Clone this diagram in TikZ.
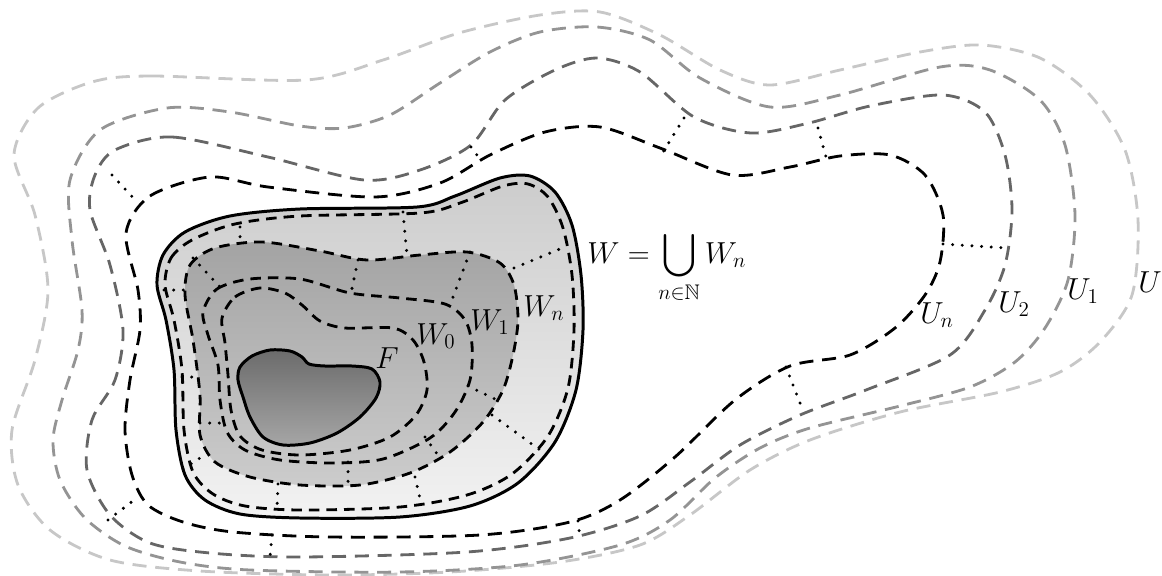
\documentclass[tikz,border=0pt]{standalone}
\usepackage{amsmath,amssymb}
\usepackage{tikz}

\begin{document}
\begin{tikzpicture}[x=0.02cm, y=-0.02cm,
  bound/.style={line width=1.6pt, dash pattern=on 8pt off 5pt},
  inner bound/.style={line width=1.6pt, dash pattern=on 6pt off 4pt},
  link/.style={line width=1.9pt, line cap=round, dash pattern=on 0pt off 5.5pt},
  lbl/.style={inner sep=0pt, anchor=base west, font=\LARGE}]
  \useasboundingbox (0,0) rectangle (1162,575);

  % Neighbourhoods U, U_1, U_2, U_n
  \draw[bound, black!22] plot[smooth cycle] coordinates {
    (92,82) (150,76) (306,80) (383,60) (459,33) (540,15) (600,12) (660,35)
    (720,70) (770,85) (840,70) (920,52) (981,45) (1040,58) (1090,95)
    (1125,150) (1138,220) (1132,295) (1100,342) (1060,372) (1000,392)
    (900,412) (810,440) (750,470) (690,515) (640,545) (560,562) (450,572)
    (330,575) (200,571) (110,560) (50,530) (18,485) (12,430) (35,360)
    (48,290) (35,215) (14,155) (38,108)};
  \draw[bound, black!42] plot[smooth cycle] coordinates {
    (100,130) (167,108) (230,112) (300,126) (344,128) (390,115) (440,83)
    (490,52) (540,32) (597,27) (650,40) (700,78) (770,107) (840,95)
    (940,67) (990,70) (1040,100) (1065,145) (1075,215) (1068,280)
    (1045,328) (1015,362) (970,387) (900,406) (810,428) (760,448)
    (715,478) (670,520) (620,545) (520,565) (400,572) (250,570) (180,562)
    (125,546) (85,518) (60,480) (53,440) (62,400) (78,350) (82,310)
    (72,240) (70,180)};
  \draw[bound, black!60] plot[smooth cycle] coordinates {
    (115,150) (172,137) (268,157) (364,180) (420,170) (471,145) (505,100)
    (555,70) (597,58) (640,72) (694,117) (751,133) (809,123) (870,106)
    (943,95) (985,112) (1005,155) (1012,210) (1005,265) (985,310)
    (950,355) (866,390) (800,415) (740,445) (690,482) (640,516) (570,538)
    (467,552) (300,557) (210,553) (150,543) (110,515) (87,470) (92,420)
    (115,380) (123,330) (110,265) (90,210) (95,175)};
  \draw[bound, black] plot[smooth cycle] coordinates {
    (126,233) (150,196) (210,177) (268,187) (375,197) (440,183) (490,155)
    (545,132) (600,127) (660,148) (732,175) (790,167) (840,156) (890,155)
    (925,175) (943,215) (940,262) (925,295) (895,328) (850,355) (790,366)
    (735,400) (675,457) (620,500) (570,522) (480,535) (330,537) (233,532)
    (183,522) (148,505) (132,475) (125,430) (130,380) (140,330) (138,290)};

  % The set W and its exhaustion
  \draw[line width=1.7pt, top color=black!20, bottom color=black!5]
    plot[smooth cycle] coordinates {
    (157,285) (163,255) (185,232) (230,216) (300,209) (417,207) (455,196)
    (500,178) (530,176) (555,192) (572,225) (581,275) (583,330) (576,390)
    (555,442) (518,483) (470,506) (400,517) (300,518) (240,514) (205,500)
    (185,475) (176,430) (174,370) (166,320)};
  \draw[inner bound] plot[smooth cycle] coordinates {
    (165,285) (171,258) (192,240) (235,224) (300,216) (420,213) (460,203)
    (503,186) (528,184) (548,197) (563,228) (572,275) (574,330) (568,388)
    (548,436) (512,474) (467,495) (400,507) (300,510) (245,506) (213,494)
    (193,472) (184,430) (182,370) (174,320)};
  \draw[inner bound, top color=black!36, bottom color=black!20]
    plot[smooth cycle] coordinates {
    (185,295) (190,265) (215,248) (262,242) (320,251) (367,260) (420,255)
    (467,252) (500,263) (514,285) (518,320) (513,355) (503,390) (483,422)
    (450,452) (410,473) (360,485) (300,485) (250,477) (215,462) (200,435)
    (200,395) (193,340)};
  \draw[inner bound] plot[smooth cycle] coordinates {
    (203,312) (217,289) (250,279) (300,279) (350,293) (400,298) (445,304)
    (465,320) (472,345) (470,380) (455,412) (430,438) (383,459) (333,463)
    (280,460) (245,450) (227,432) (220,400) (218,365) (208,335)};
  \draw[inner bound] plot[smooth cycle] coordinates {
    (222,318) (235,297) (260,288) (285,293) (302,305) (320,321) (345,328)
    (393,328) (413,340) (424,362) (427,390) (416,415) (390,437) (350,450)
    (300,455) (262,450) (240,436) (231,410) (228,375) (225,343)};

  % The closed set F
  \draw[line width=1.7pt, top color=black!58, bottom color=black!35]
    plot[smooth cycle] coordinates {
    (240,367) (252,356) (270,350) (290,351) (302,357) (309,364) (325,366)
    (352,366) (372,369) (380,382) (376,398) (360,417) (337,433) (310,443)
    (283,445) (263,437) (250,417) (243,397) (238,380)};

  % Dotted links between successive sets
  \foreach \a/\b in {{112,175}/{138,203}, {471,147}/{482,162},
      {684,118}/{663,152}, {818,128}/{826,157}, {943,244}/{1006,248},
      {786,367}/{802,408}, {578,521}/{580,538}, {108,520}/{138,497},
      {272,535}/{270,557}, {278,484}/{277,508}, {183,469}/{200,458},
      {182,377}/{200,377}, {200,423}/{221,423}, {164,290}/{184,290},
      {240,227}/{240,245}, {193,258}/{220,287}, {358,260}/{351,293},
      {403,212}/{407,255}, {470,252}/{450,305}, {514,268}/{567,246},
      {468,386}/{497,400}, {492,415}/{540,450}, {425,437}/{440,458},
      {415,477}/{421,503}, {348,462}/{348,485}}
    \draw[link] (\a) -- (\b);

  % Labels
  \node[lbl] (labW) at (587,263) {$\displaystyle W=\bigcup_{n\in\mathbb{N}}W_n$};
  \node[lbl] (labWn) at (523,316) {$W_n$};
  \node[lbl] (labW1) at (470,330) {$W_1$};
  \node[lbl] (labW0) at (416,344) {$W_0$};
  \node[lbl] (labF) at (375,368) {$F$};
  \node[lbl] (labUn) at (920,323) {$U_n$};
  \node[lbl] (labU2) at (998,312) {$U_2$};
  \node[lbl] (labU1) at (1067,299) {$U_1$};
  \node[lbl] (labU) at (1138,292) {$U$};
\end{tikzpicture}
\end{document}
